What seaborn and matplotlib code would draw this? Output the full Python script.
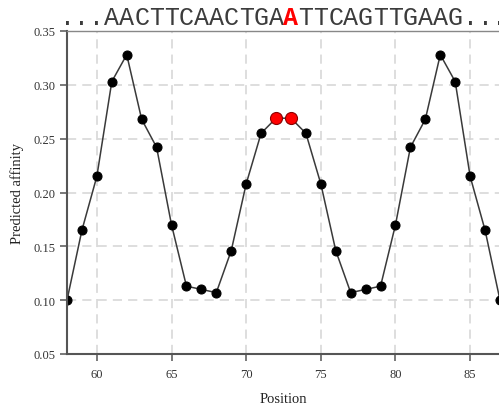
import matplotlib
matplotlib.use("Agg")
import matplotlib.pyplot as plt
import matplotlib.transforms as mtransforms
import seaborn as sns

# Data
positions = list(range(58, 88))
affinity = [0.100, 0.165, 0.215, 0.303, 0.328, 0.268, 0.242, 0.170, 0.113, 0.110,
            0.107, 0.146, 0.208, 0.255, 0.269, 0.269, 0.255, 0.208, 0.146, 0.107,
            0.110, 0.113, 0.170, 0.242, 0.268, 0.328, 0.303, 0.215, 0.165, 0.100]
highlight = [72, 73]
sequence = "...AACTTCAACTGAATTCAGTTGAAG..."
mutated_index = 15
x_ticks = [60, 65, 70, 75, 80, 85]
y_ticks = [0.05, 0.10, 0.15, 0.20, 0.25, 0.30, 0.35]

sns.set_style("whitegrid", {"grid.linestyle": (0, (6, 4)), "grid.color": "#d4d4d4"})
plt.rcParams["font.family"] = ["Liberation Serif", "DejaVu Serif"]

fig = plt.figure(figsize=(4.99, 4.10), dpi=100)
ax = fig.add_axes([67 / 499, 55 / 410, 433 / 499, 323 / 410])

sns.lineplot(x=positions, y=affinity, ax=ax, color="#3a3a3a", linewidth=1.1,
             marker="o", markersize=6.5, markerfacecolor="black",
             markeredgecolor="black")
hl_y = [affinity[positions.index(p)] for p in highlight]
sns.scatterplot(x=highlight, y=hl_y, ax=ax, s=75, color="red",
                edgecolor="#8b0000", linewidth=0.8, zorder=5)

ax.set_xlim(58, 87)
ax.set_ylim(0.05, 0.35)
ax.set_xticks(x_ticks)
ax.set_yticks(y_ticks)
ax.set_yticklabels([f"{v:.2f}" for v in y_ticks])
ax.grid(True, linewidth=1.1)

ax.tick_params(axis="both", bottom=True, left=True, direction="out", length=5,
               width=1.1, color="#555555", labelsize=9, labelcolor="#333333", pad=3)
ax.tick_params(axis="x", pad=5)
for side in ["left", "bottom"]:
    ax.spines[side].set_color("#555555")
    ax.spines[side].set_linewidth(1.5)
ax.spines["top"].set_color("#888888")
ax.spines["top"].set_linewidth(1.0)
ax.spines["right"].set_visible(False)

ax.set_xlabel("Position", fontsize=10.5, color="#222222", labelpad=9)
ax.set_ylabel("Predicted affinity", fontsize=10.5, color="#222222", labelpad=7)

# sequence letters above the plot, one per position
trans = mtransforms.blended_transform_factory(ax.transData, ax.transAxes)
for i, ch in enumerate(sequence):
    is_mut = i == mutated_index
    ax.text(positions[i], 1.0 + 7 / 323, ch, transform=trans, ha="center",
            va="baseline", fontsize=18, family="Liberation Mono",
            color="red" if is_mut else "#3c3c3c",
            fontweight="bold" if is_mut else "normal", clip_on=False)

fig.savefig("out.png", dpi=100)
